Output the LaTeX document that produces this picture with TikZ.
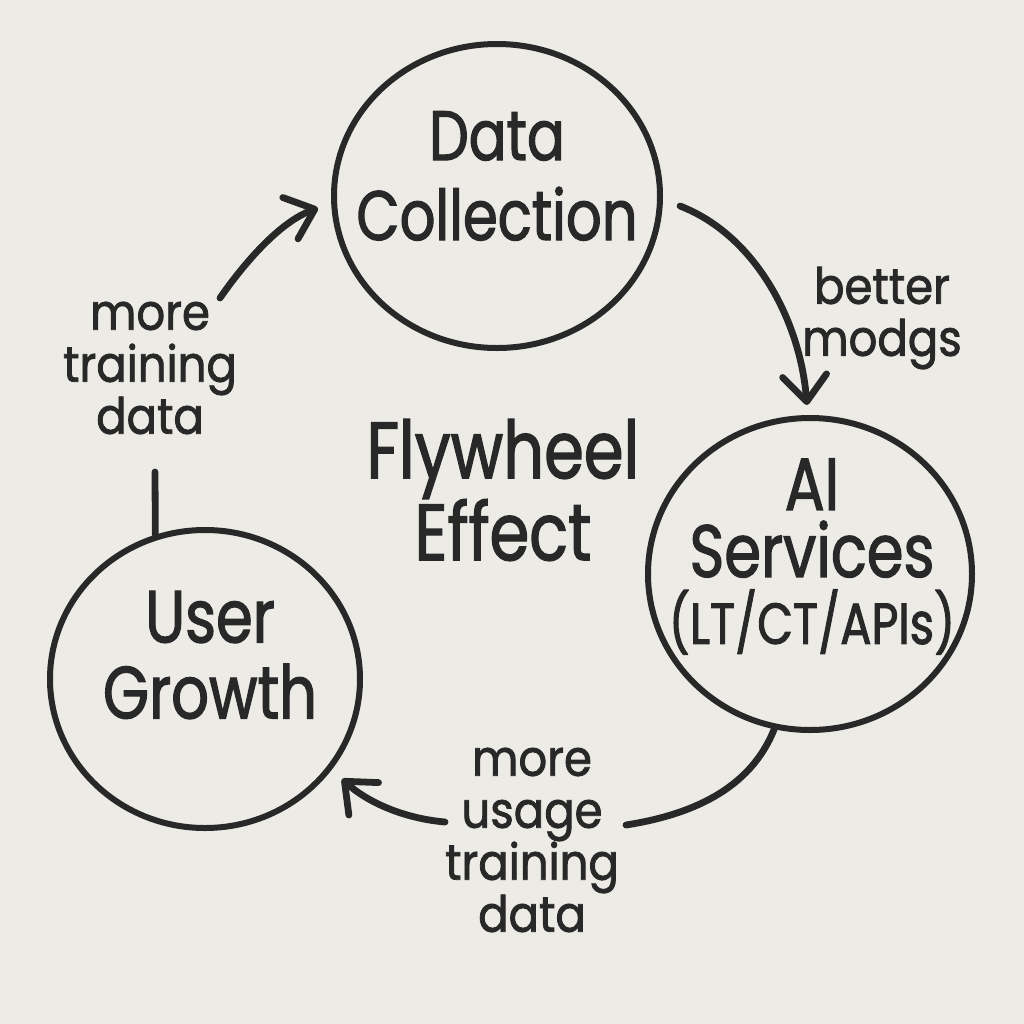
\documentclass[tikz,border=0pt]{standalone}
\usepackage{fontspec}
\setmainfont{Poppins}[FakeStretch=0.8,FakeBold=1.6]
\newfontfamily\labfont{Poppins}[FakeStretch=0.9,FakeBold=1.6]
\usetikzlibrary{shapes.geometric,arrows.meta}
\definecolor{paper}{RGB}{237,235,230}
\definecolor{ink}{RGB}{40,40,40}
\begin{document}
\begin{tikzpicture}[x=0.5pt,y=-0.5pt,
  bubble/.style={draw=ink,line width=3pt,ellipse,inner sep=0pt},
  big/.style={text=ink,align=center,font=\fontsize{35}{40}\selectfont},
  mid/.style={text=ink,align=center,font=\fontsize{29}{32}\selectfont},
  title/.style={text=ink,align=center,font=\fontsize{40}{41}\selectfont},
  lbl/.style={text=ink,align=center,font=\labfont\fontsize{25}{26}\selectfont},
  flow/.style={draw=ink,line width=3.4pt,line cap=round},
  tip/.style={-{Straight Barb[length=13pt,width=22pt,round]}}]
\fill[paper] (0,0) rectangle (1024,1024);
\useasboundingbox (0,0) rectangle (1024,1024);

% circles
\node[bubble,minimum width=163pt,minimum height=152pt] (dc) at (497,196) {};
\node[bubble,minimum width=162pt,minimum height=156pt] (ai) at (810,574) {};
\node[bubble,minimum width=155pt,minimum height=149pt] (ug) at (205,679) {};

% circle texts
\node[big] (dct) at (497,176) {Data\\Collection};
\node[big,font=\fontsize{37}{33.5}\selectfont] (ait) at (812,518) {AI\\Services};
\node[mid] (aip) at (812,622) {(LT/CT/APIs)};
\node[big,font=\fontsize{37}{38}\selectfont] (ugt) at (210,655) {User\\Growth};
\node[title] (fw) at (503,490) {Flywheel\\Effect};

% labels
\node[lbl] (lb1) at (882,318) {better\\modgs};
\node[lbl] (lb2) at (150,368) {more\\training\\data};
\node[lbl] (lb3) at (532,840) {more\\usage\\training\\data};

% connectors
\coordinate (r1) at (680,206);
\coordinate (r2) at (807,405);
\draw[flow,tip] (r1) .. controls (755,235) and (800,320) .. (r2);

\coordinate (b1) at (626,825);
\coordinate (b2) at (445,822);
\coordinate (b3) at (342,779);
\draw[flow] (ai.-103) .. controls (750,790) and (690,815) .. (b1);
\draw[flow,tip] (b2) .. controls (400,818) and (365,800) .. (b3);

\coordinate (l0) at (155,472);
\coordinate (l1) at (220,298);
\coordinate (l2) at (318,208);
\draw[flow] (l0) -- (ug.109.5);
\draw[flow,tip] (l1) .. controls (245,262) and (280,222) .. (l2);
\end{tikzpicture}
\end{document}
